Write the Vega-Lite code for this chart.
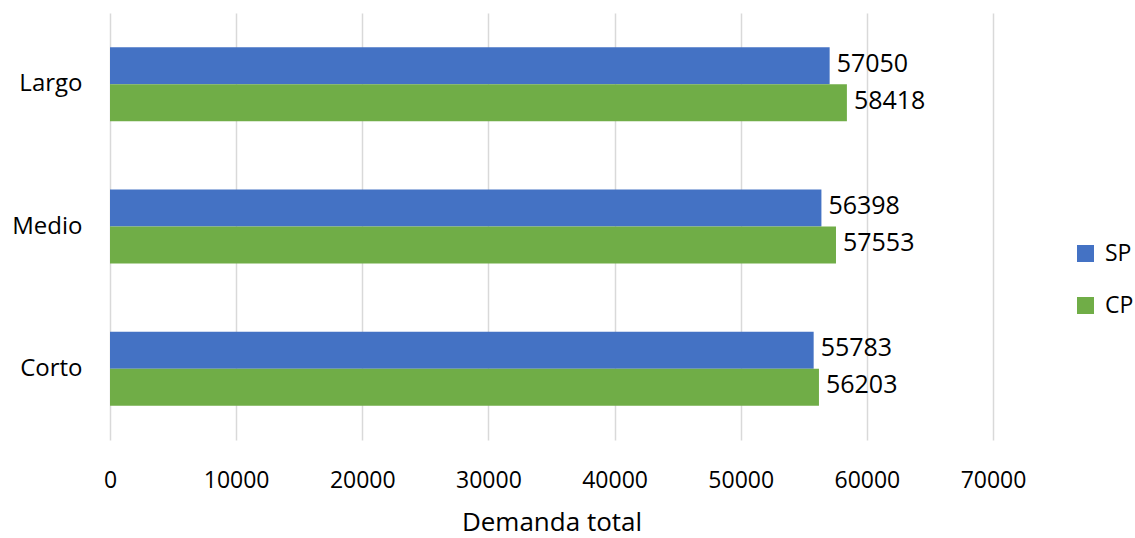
{
  "$schema": "https://vega.github.io/schema/vega-lite/v6.json",
  "autosize": "none",
  "width": 883,
  "height": 427,
  "padding": {"left": 110, "top": 13, "right": 142, "bottom": 98},
  "background": "white",
  "config": {
    "view": {"stroke": null},
    "font": "Open Sans",
    "axis": {"labelFont": "Open Sans", "titleFont": "Open Sans", "labelColor": "#000000", "titleColor": "#000000"},
    "legend": {"labelFont": "Open Sans"}
  },
  "data": {
    "values": [
      {"plazo": "Largo", "serie": "SP", "demanda": 57050},
      {"plazo": "Largo", "serie": "CP", "demanda": 58418},
      {"plazo": "Medio", "serie": "SP", "demanda": 56398},
      {"plazo": "Medio", "serie": "CP", "demanda": 57553},
      {"plazo": "Corto", "serie": "SP", "demanda": 55783},
      {"plazo": "Corto", "serie": "CP", "demanda": 56203}
    ]
  },
  "encoding": {
    "y": {
      "field": "plazo",
      "type": "nominal",
      "sort": ["Largo", "Medio", "Corto"],
      "scale": {"paddingInner": 0.48, "paddingOuter": 0.24},
      "axis": {"title": null, "ticks": false, "domain": false, "labelFontSize": 24, "labelPadding": 28}
    },
    "yOffset": {"field": "serie", "sort": ["SP", "CP"], "scale": {"paddingInner": 0}},
    "x": {
      "field": "demanda",
      "type": "quantitative",
      "scale": {"domain": [0, 70000]},
      "axis": {
        "title": "Demanda total",
        "titleFontSize": 26,
        "titleFontWeight": "normal",
        "titlePadding": 17,
        "values": [0, 10000, 20000, 30000, 40000, 50000, 60000, 70000],
        "format": "d",
        "labelOverlap": false,
        "labelFlush": false,
        "ticks": false,
        "domain": false,
        "grid": true,
        "gridColor": "#d9d9d9",
        "gridWidth": 1.5,
        "labelFontSize": 23,
        "labelPadding": 29
      }
    }
  },
  "layer": [
    {
      "mark": {"type": "bar"},
      "encoding": {
        "color": {
          "field": "serie",
          "type": "nominal",
          "sort": ["SP", "CP"],
          "scale": {"domain": ["SP", "CP"], "range": ["#4472C4", "#70AD47"]},
          "legend": {
            "title": null,
            "orient": "none",
            "legendX": 964,
            "legendY": 229,
            "symbolType": "square",
            "symbolSize": 289,
            "symbolStrokeWidth": 0,
            "labelFontSize": 23,
            "rowPadding": 28,
            "labelOffset": 8
          }
        }
      }
    },
    {
      "mark": {"type": "text", "align": "left", "baseline": "middle", "dx": 7, "dy": -2, "fontSize": 25, "color": "#000000"},
      "encoding": {"text": {"field": "demanda", "type": "quantitative", "format": "d"}}
    }
  ]
}
